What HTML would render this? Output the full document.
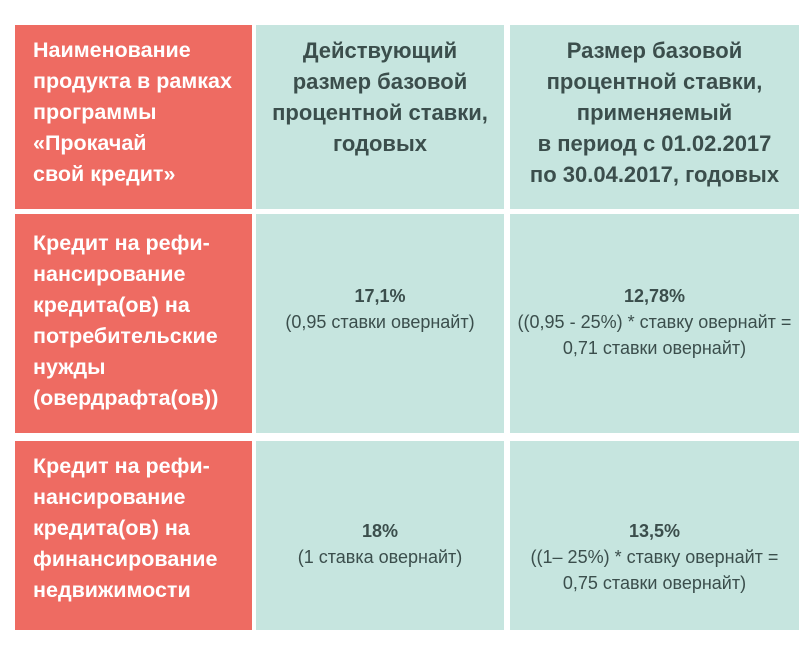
<!DOCTYPE html><html><head><meta charset="utf-8"><style>
body{margin:0;width:810px;height:645px;background:#fff;position:relative;overflow:hidden;font-family:"Liberation Sans","DejaVu Sans",sans-serif}
.c{position:absolute;box-sizing:border-box}
.r{background:#ee6b62;color:#fff;font-weight:bold;font-size:21.5px;line-height:31px;padding-left:18px;white-space:nowrap}
.m{background:#c6e5df;color:#3b4e4c;text-align:center;display:flex;align-items:flex-start;justify-content:center;white-space:nowrap}
.h{font-weight:bold;font-size:22px;line-height:31px;padding-top:10px}
.b{font-size:18px;line-height:26px}
</style></head><body>
<div class="c r" style="left:15px;top:25px;width:237px;height:184px;padding-top:10px">Наименование<br>продукта в рамках<br>программы<br>«Прокачай<br>свой кредит»</div>
<div class="c m h" style="left:256px;top:25px;width:248px;height:184px">Действующий<br>размер базовой<br>процентной ставки,<br>годовых</div>
<div class="c m h" style="left:510px;top:25px;width:289px;height:184px">Размер базовой<br>процентной ставки,<br>применяемый<br>в период с 01.02.2017<br>по 30.04.2017, годовых</div>
<div class="c r" style="left:15px;top:214px;width:237px;height:219px;padding-top:14px">Кредит на рефи-<br>нансирование<br>кредита(ов) на<br>потребительские<br>нужды<br>(овердрафта(ов))</div>
<div class="c m b" style="left:256px;top:214px;width:248px;height:219px;padding-top:69px"><div><b>17,1%</b><br>(0,95 ставки овернайт)</div></div>
<div class="c m b" style="left:510px;top:214px;width:289px;height:219px;padding-top:69px"><div><b>12,78%</b><br>((0,95 - 25%) * ставку овернайт =<br>0,71 ставки овернайт)</div></div>
<div class="c r" style="left:15px;top:441px;width:237px;height:189px;padding-top:10px">Кредит на рефи-<br>нансирование<br>кредита(ов) на<br>финансирование<br>недвижимости</div>
<div class="c m b" style="left:256px;top:441px;width:248px;height:189px;padding-top:77px"><div><b>18%</b><br>(1 ставка овернайт)</div></div>
<div class="c m b" style="left:510px;top:441px;width:289px;height:189px;padding-top:77px"><div><b>13,5%</b><br>((1– 25%) * ставку овернайт =<br>0,75 ставки овернайт)</div></div>
</body></html>
